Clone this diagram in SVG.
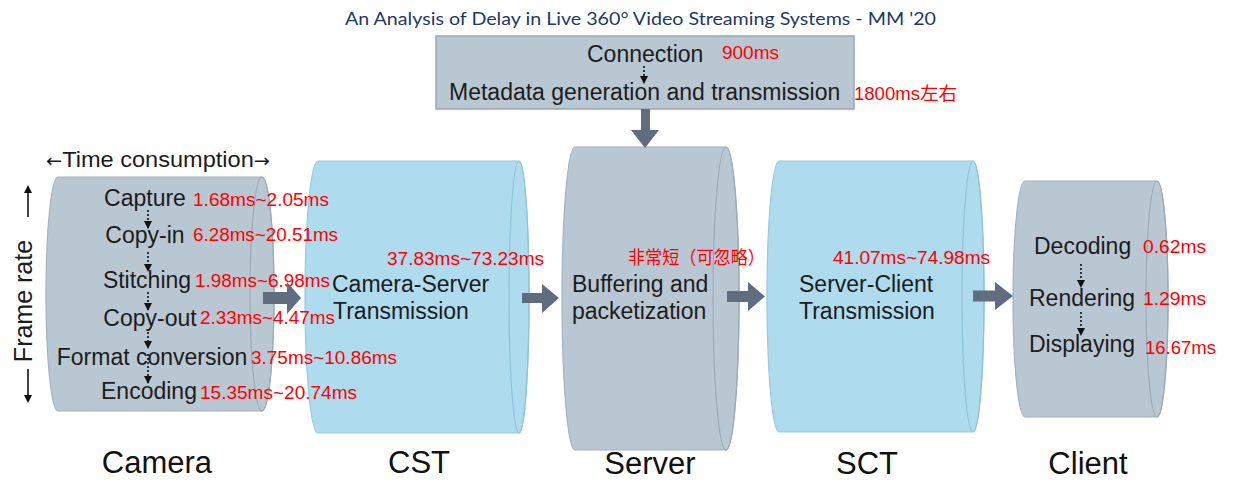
<svg xmlns="http://www.w3.org/2000/svg" width="1234" height="487" viewBox="0 0 1234 487">
<defs>
<marker id="sh" markerUnits="userSpaceOnUse" markerWidth="8" markerHeight="8" refX="7" refY="4" orient="auto" viewBox="0 0 8 8"><path d="M0,0 L8,4 L0,8 Z" fill="#111"/></marker>
<style>
.gray{fill:#B9C7D3;stroke:#A2B2BF;stroke-width:1.2}
.blue{fill:#AEDBEE;stroke:#97C9DE;stroke-width:1.2}
.rim{fill:none;stroke-width:1.2}
.grayrim{stroke:#9AAAB8}
.bluerim{stroke:#8EC3DA}
.lbl{font-family:"Liberation Sans",Arial,sans-serif;font-size:23px;fill:#1c1c1c}
.red{font-family:"Liberation Sans",Arial,"Noto Sans CJK SC",sans-serif;font-size:18px;fill:#FF0000}
.cn{font-family:"Noto Sans CJK SC",sans-serif;font-size:18px;fill:#FF0000}
.big{font-family:"Liberation Sans",Arial,sans-serif;font-size:31px;fill:#111;text-anchor:middle}
.dot{stroke:#111;stroke-width:1.6;stroke-dasharray:2,2;fill:none}
.conn{fill:#5F6D7E}
</style>
</defs>
<rect width="1234" height="487" fill="#fff"/>
<text x="345" y="25" font-family="Lato,'Open Sans',sans-serif" font-size="18" fill="#1F3864" textLength="591" lengthAdjust="spacingAndGlyphs">An Analysis of Delay in Live 360° Video Streaming Systems - MM '20</text>

<g id="setup">
<rect x="436" y="36" width="418" height="73" fill="#B9C7D3" stroke="#9AA6B1" stroke-width="1.5"/>
<text class="lbl" x="587" y="62">Connection</text>
<text class="red" x="722" y="59" textLength="57" lengthAdjust="spacingAndGlyphs">900ms</text>
<line class="dot" x1="644" y1="66" x2="644" y2="83" marker-end="url(#sh)"/>
<text class="lbl" x="449" y="100">Metadata generation and transmission</text>
<text class="red" x="854" y="100" textLength="103" lengthAdjust="spacingAndGlyphs">1800ms<tspan class="cn">左右</tspan></text>
</g>

<g id="cst">
<path class="blue" d="M318,161 H519 A10,136 0 0 1 519,433 H318 A13,136 0 0 1 318,161 Z"/>
<ellipse class="rim bluerim" cx="519" cy="297" rx="10" ry="136"/>
<text class="red" x="387" y="265" textLength="157" lengthAdjust="spacingAndGlyphs">37.83ms~73.23ms</text>
<text class="lbl" x="332" y="292">Camera-Server</text>
<text class="lbl" x="333" y="319">Transmission</text>
<text class="big" x="419" y="473">CST</text>
</g>

<g id="server">
<path class="gray" d="M575,147 H726 A13,151.5 0 0 1 726,450 H575 A13,151.5 0 0 1 575,147 Z"/>
<ellipse class="rim grayrim" cx="726" cy="298.5" rx="13" ry="151.5"/>
<text class="cn" x="628" y="264" textLength="137" lengthAdjust="spacingAndGlyphs">非常短（可忽略）</text>
<text class="lbl" x="572" y="292">Buffering and</text>
<text class="lbl" x="572" y="319">packetization</text>
<text class="big" x="650" y="474">Server</text>
</g>

<g id="sct">
<path class="blue" d="M779,161 H973 A11,135.5 0 0 1 973,432 H779 A12,135.5 0 0 1 779,161 Z"/>
<ellipse class="rim bluerim" cx="973" cy="296.5" rx="11" ry="135.5"/>
<text class="red" x="833" y="264" textLength="157" lengthAdjust="spacingAndGlyphs">41.07ms~74.98ms</text>
<text class="lbl" x="799" y="292">Server-Client</text>
<text class="lbl" x="799" y="319">Transmission</text>
<text class="big" x="867" y="474">SCT</text>
</g>

<g id="client">
<path class="gray" d="M1025,181 H1157 A11,118 0 0 1 1157,417 H1025 A12,118 0 0 1 1025,181 Z"/>
<ellipse class="rim grayrim" cx="1157" cy="299" rx="11" ry="118"/>
<text class="lbl" x="1034" y="254">Decoding</text>
<text class="red" x="1143" y="253" textLength="63" lengthAdjust="spacingAndGlyphs">0.62ms</text>
<line class="dot" x1="1081" y1="264" x2="1081" y2="287" marker-end="url(#sh)"/>
<text class="lbl" x="1029" y="306">Rendering</text>
<text class="red" x="1143" y="305" textLength="63" lengthAdjust="spacingAndGlyphs">1.29ms</text>
<line class="dot" x1="1081" y1="312" x2="1081" y2="335" marker-end="url(#sh)"/>
<text class="lbl" x="1029" y="352">Displaying</text>
<text class="red" x="1145" y="354" textLength="71" lengthAdjust="spacingAndGlyphs">16.67ms</text>
<text class="big" x="1088" y="474">Client</text>
</g>

<g id="camera">
<path class="gray" d="M58,177 H262 A12,117 0 0 1 262,411 H58 A12,117 0 0 1 58,177 Z"/>
<ellipse class="rim grayrim" cx="262" cy="294" rx="12" ry="117"/>
<text x="46" y="167" font-family="'Liberation Sans',Arial,sans-serif" font-size="22" fill="#1c1c1c" textLength="224" lengthAdjust="spacingAndGlyphs"><tspan font-family="'DejaVu Sans',sans-serif" font-size="18">←</tspan>Time consumption<tspan font-family="'DejaVu Sans',sans-serif" font-size="18">→</tspan></text>
<text x="32" y="301" transform="rotate(-90 32 301)" font-family="'Liberation Sans',Arial,sans-serif" font-size="25" fill="#1c1c1c" text-anchor="middle">Frame rate</text>
<line x1="28" y1="217" x2="28" y2="191" stroke="#111" stroke-width="1.6"/>
<path d="M24,193 L28,185 L32,193 Z" fill="#111"/>
<line x1="28" y1="369" x2="28" y2="397" stroke="#111" stroke-width="1.6"/>
<path d="M24,395 L28,403 L32,395 Z" fill="#111"/>
<g class="lbl" text-anchor="middle">
<text x="145" y="206">Capture</text>
<text x="145" y="243">Copy-in</text>
<text x="147" y="288">Stitching</text>
<text x="150" y="326">Copy-out</text>
<text x="152" y="365">Format conversion</text>
<text x="149" y="399">Encoding</text>
</g>
<line class="dot" x1="148" y1="210" x2="148" y2="228" marker-end="url(#sh)"/>
<line class="dot" x1="148" y1="252" x2="148" y2="271" marker-end="url(#sh)"/>
<line class="dot" x1="148" y1="292" x2="148" y2="310" marker-end="url(#sh)"/>
<line class="dot" x1="148" y1="332" x2="148" y2="348" marker-end="url(#sh)"/>
<line class="dot" x1="148" y1="354" x2="148" y2="383" marker-end="url(#sh)"/>
<text class="red" x="193" y="206" textLength="136" lengthAdjust="spacingAndGlyphs">1.68ms~2.05ms</text>
<text class="red" x="193" y="241" textLength="145" lengthAdjust="spacingAndGlyphs">6.28ms~20.51ms</text>
<text class="red" x="195" y="287" textLength="135" lengthAdjust="spacingAndGlyphs">1.98ms~6.98ms</text>
<text class="red" x="200" y="324" textLength="135" lengthAdjust="spacingAndGlyphs">2.33ms~4.47ms</text>
<text class="red" x="251" y="364" textLength="146" lengthAdjust="spacingAndGlyphs">3.75ms~10.86ms</text>
<text class="red" x="200" y="399" textLength="157" lengthAdjust="spacingAndGlyphs">15.35ms~20.74ms</text>
<text class="big" x="157" y="473">Camera</text>
</g>

<g id="connectors" class="conn">
<polygon points="641,109 650,109 650,130 659,130 645,148 631,130 641,130"/>
<polygon points="263,292 287,292 287,282 301,298 287,314 287,304 263,304"/>
<polygon points="522,293 542,293 542,284 559,298 542,313 542,303 522,303"/>
<polygon points="727,291 748,291 748,282 765,296.5 748,311 748,302 727,302"/>
<polygon points="973,290.5 995,290.5 995,282 1013,296 995,310 995,301.5 973,301.5"/>
</g>
</svg>
